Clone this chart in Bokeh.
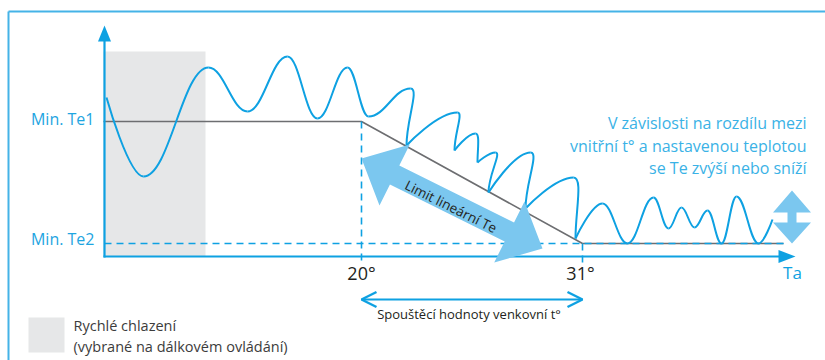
import numpy as np
from bokeh.plotting import figure
from bokeh.models import Range1d, Arrow, OpenHead
from bokeh.embed import file_html
from bokeh.resources import INLINE
from bokeh.core.properties import value

# ---------------- data (diagram units: x to the right, y downward) ----------------
origin_x, origin_y = 104, 256          # where the two axes meet
y_axis_top = 25                        # tip of the vertical arrow
x_axis_end = 795                       # tip of the horizontal arrow
fast_cool_x = [103, 205]               # grey band "Rychlé chlazení"
fast_cool_y = [51, 256]
te1_y, te2_y = 121, 243                # Min. Te1 / Min. Te2 levels
t20_x, t31_x = 361, 582                # 20° and 31° outdoor temperature
limit_x = [103, t20_x, t31_x, 783]     # grey limit line
limit_y = [te1_y, te1_y, te2_y, te2_y]
te2_end_x = 783

# indoor temperature wave: extremes
wave_x = [106, 143, 208, 247, 287, 317, 347, 368, 410, 406, 457, 454, 475, 477,
          495, 488, 530, 525, 573, 575, 602, 627, 653, 668, 681, 694, 707, 721,
          736, 758, 772]
wave_y = [97, 176, 67, 111, 56, 118, 67, 116, 88, 145, 112, 150, 133, 162,
          152, 192, 152, 208, 177, 238, 203, 243, 197, 228, 207, 227, 210, 243,
          196, 243, 219]

level_labels = ["Min. Te1", "Min. Te2"]
tick_labels = ["20°", "31°"]
x_axis_label = "Ta"
range_label = "Spouštěcí hodnoty venkovní t°"
limit_label = "Limit lineární Te"
note_lines = ["V závislosti na rozdílu mezi",
              "vnitřní t° a nastavenou teplotou",
              "se Te zvýší nebo sníží"]
legend_lines = ["Rychlé chlazení", "(vybrané na dálkovém ovládání)"]

# big double arrow (along the limit) and the small up/down arrow
big_arrow_a = (361, 158)
big_arrow_b = (542, 248)
updown_x = 791.5
updown_top, updown_bottom = 190, 243

# ---------------- styles ----------------
BLUE = "#0ea1e2"
LABEL_BLUE = "#1ea5e1"
NOTE_BLUE = "#3ab2e6"
LIGHT_BLUE = "#7bc7ef"
GREY_FILL = "#e6e7e8"
GREY_LINE = "#6d6e71"
DARK = "#231f20"
FONT = value("Open Sans")

W, H = 825, 360
p = figure(width=W, height=H, x_range=Range1d(0, W), y_range=Range1d(H, 0),
           x_axis_type=None, y_axis_type=None, toolbar_location=None,
           output_backend="svg", min_border=0, outline_line_color=None)
p.grid.visible = False
p.background_fill_color = "white"

# frame lines of the panel
p.line(x=[8, W], y=[11, 11], line_color="#45b3e7", line_width=2)
p.line(x=[8, 8], y=[11, H], line_color="#45b3e7", line_width=2)

# grey band
p.quad(left=fast_cool_x[0], right=fast_cool_x[1], top=fast_cool_y[0], bottom=fast_cool_y[1],
       fill_color=GREY_FILL, line_color=None)

# grey limit line
p.line(x=limit_x, y=limit_y, line_color=GREY_LINE, line_width=1.6)

# dashed guide lines
dash = "7 5"
p.line(x=[origin_x, te2_end_x], y=[te2_y, te2_y], line_color=BLUE, line_width=1.7, line_dash=dash)
p.line(x=[t20_x, t20_x], y=[te1_y, origin_y + 6], line_color=BLUE, line_width=1.6, line_dash=dash)
p.line(x=[t31_x, t31_x], y=[te2_y, origin_y + 6], line_color=BLUE, line_width=1.6, line_dash=dash)

# axes with arrow heads
p.line(x=[origin_x, origin_x], y=[origin_y + 1, y_axis_top + 14], line_color=BLUE, line_width=2.2)
p.line(x=[origin_x - 1, x_axis_end - 16], y=[origin_y, origin_y], line_color=BLUE, line_width=2.2)
p.patch(x=[origin_x, origin_x - 6.5, origin_x + 6.5], y=[y_axis_top, y_axis_top + 16, y_axis_top + 16],
        fill_color=BLUE, line_color=None)
p.patch(x=[x_axis_end, x_axis_end - 17, x_axis_end - 17], y=[origin_y, origin_y - 6.5, origin_y + 6.5],
        fill_color=BLUE, line_color=None)

# wave as cubic bezier segments: horizontal tangents at extremes,
# steep drops plunge vertically into a sharp trough
wx = np.array(wave_x, float)
wy = np.array(wave_y, float)
n = len(wx)
cusp = np.zeros(n, bool)
for i in range(1, n - 1):
    trough = wy[i] > wy[i - 1] and wy[i] > wy[i + 1]
    steep = abs(wx[i] - wx[i - 1]) < 0.35 * abs(wy[i] - wy[i - 1])
    cusp[i] = trough and steep
x0 = wx[:-1]; y0 = wy[:-1]; x1 = wx[1:]; y1 = wy[1:]
cx0 = np.empty(n - 1); cy0 = np.empty(n - 1); cx1 = np.empty(n - 1); cy1 = np.empty(n - 1)
for i in range(n - 1):
    dx = abs(x1[i] - x0[i]); dy = abs(y1[i] - y0[i])
    h = 0.4 * dx
    if cusp[i + 1]:
        # rounded top, vertical plunge
        cx0[i], cy0[i] = x0[i] + 0.16 * dy, y0[i]
        cx1[i], cy1[i] = x1[i], y1[i] - 0.45 * dy
    else:
        cx0[i], cy0[i] = x0[i] + h, y0[i]
        cx1[i], cy1[i] = x1[i] - h, y1[i]
    if i == 0 or cusp[i]:
        cx0[i], cy0[i] = x0[i], y0[i]
    if i + 1 == n - 1:
        cx1[i], cy1[i] = x1[i], y1[i]
p.bezier(x0=x0, y0=y0, x1=x1, y1=y1, cx0=cx0, cy0=cy0, cx1=cx1, cy1=cy1,
         line_color=BLUE, line_width=2)

# big double arrow
A = np.array(big_arrow_a, float); B = np.array(big_arrow_b, float)
u = (B - A) / np.linalg.norm(B - A)
nn = np.array([-u[1], u[0]])
hl, hw, sw = 37, 34, 10.5
pts = [A, A + hl * u + hw * nn, A + hl * u + sw * nn, B - hl * u + sw * nn, B - hl * u + hw * nn,
       B, B - hl * u - hw * nn, B - hl * u - sw * nn, A + hl * u - sw * nn, A + hl * u - hw * nn]
p.patch(x=[q[0] for q in pts], y=[q[1] for q in pts], fill_color=LIGHT_BLUE, line_color=None)
ang = -np.arctan2(B[1] - A[1], B[0] - A[0])
mid = (A + B) / 2
p.text(x=[mid[0] - 1], y=[mid[1] + 3], text=[limit_label], angle=ang, text_align="center",
       text_baseline="middle", text_font=FONT, text_font_size="13.5px", text_color=DARK)

# small up/down arrow
hh = 22; shaft = 4.5; headw = 19
ux = [updown_x, updown_x + headw, updown_x + shaft, updown_x + shaft, updown_x + headw, updown_x,
      updown_x - headw, updown_x - shaft, updown_x - shaft, updown_x - headw]
uy = [updown_top, updown_top + hh, updown_top + hh, updown_bottom - hh + 1, updown_bottom - hh + 1,
      updown_bottom, updown_bottom - hh + 1, updown_bottom - hh + 1, updown_top + hh, updown_top + hh]
p.patch(x=ux, y=uy, fill_color=LIGHT_BLUE, line_color=None)

# level labels
p.text(x=[94, 94], y=[te1_y - 3, te2_y - 5], text=level_labels, text_align="right",
       text_baseline="middle", text_font=FONT, text_font_size="16px", text_color=LABEL_BLUE)
# tick labels
p.text(x=[t20_x, t31_x - 2], y=[origin_y + 16, origin_y + 16], text=tick_labels, text_align="center",
       text_baseline="middle", text_font=FONT, text_font_size="18px", text_color=DARK)
p.text(x=[x_axis_end - 3], y=[origin_y + 16], text=[x_axis_label], text_align="center",
       text_baseline="middle", text_font=FONT, text_font_size="17px", text_color=BLUE)

# range arrow under the axis
p.add_layout(Arrow(x_start=t31_x, y_start=299, x_end=t20_x, y_end=299,
                   start=OpenHead(size=15, line_color=BLUE, line_width=2.4),
                   end=OpenHead(size=15, line_color=BLUE, line_width=2.4),
                   line_color=BLUE, line_width=2.2))
p.text(x=[(t20_x + t31_x) / 2 - 3], y=[313], text=[range_label], text_align="center",
       text_baseline="middle", text_font=FONT, text_font_size="13px", text_color=DARK)

# note on the right
p.text(x=[806, 806, 806], y=[122, 145, 167], text=note_lines, text_align="right",
       text_baseline="middle", text_font=FONT, text_font_size="16px", text_color=NOTE_BLUE)

# legend
p.quad(left=28, right=64, top=317, bottom=352, fill_color=GREY_FILL, line_color=None)
p.text(x=[73, 73], y=[325, 346], text=legend_lines, text_align="left", text_baseline="middle",
       text_font=FONT, text_font_size="14.5px", text_color="#3c3c3c")

open("out.html", "w").write(file_html(p, INLINE))
